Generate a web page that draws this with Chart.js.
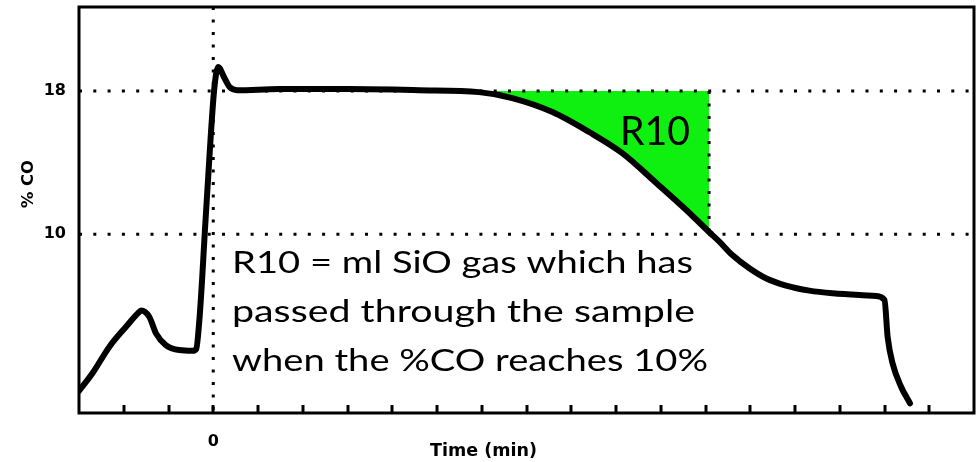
<!DOCTYPE html>
<html><head><meta charset="utf-8">
<script src="https://cdn.jsdelivr.net/npm/chart.js@4.4.0/dist/chart.umd.min.js"></script>
<style>html,body{margin:0;padding:0;background:#fff}#wrap{width:978px;height:462px;position:relative}</style>
</head><body><div id="wrap"><canvas id="c"></canvas></div>
<script>
// ---- data ----
const timeMin = [-3.0,-2.70,-2.32,-1.95,-1.65,-1.61,-1.43,-1.28,-1.06,-0.76,-0.46,-0.38,-0.31,-0.25,-0.19,-0.09,0.02,0.11,0.25,0.36,0.54,1.47,3.04,4.6,5.94,6.68,7.58,8.40,9.14,9.90,10.57,11.08,11.31,11.60,11.98,12.35,12.80,13.32,13.84,14.44,14.81,15.0,15.07,15.18,15.37,15.57];
const coPct   = [1.23,2.22,3.71,4.82,5.66,5.73,5.38,4.45,3.80,3.52,3.48,3.58,5.2,7.43,10.06,14.14,18.05,19.35,18.73,18.24,18.05,18.11,18.11,18.05,17.94,17.61,16.83,15.71,14.53,12.86,11.35,10.12,9.58,8.83,8.09,7.53,7.12,6.84,6.69,6.60,6.54,6.32,4.26,2.78,1.47,0.54];
const refLevels = [10, 18];      // dotted horizontal reference levels (% CO)
const r10Time = 11.08;           // time at which %CO reaches 10
const r10Start = 5.94;           // curve leaves the 18% plateau
const xTickValues = [-2,-1,0,1,2,3,4,5,6,7,8,9,10,11,12,13,14,15,16];
const xLabelled = [0];
const xRange = [-3, 17];
const yRange = [0, 22.7];
const xTitle = "Time (min)";
const yTitle = "% CO";
const annotationLines = ["R10 = ml SiO gas which has", "passed through the sample", "when the %CO reaches 10%"];
const areaLabel = "R10";

const curve = timeMin.map((t,i)=>({x:t, y:coPct[i]}));
const r10Area = curve.filter(p => p.x >= r10Start && p.x <= r10Time);

function fitText(ctx, text, x, y, width, font){
  ctx.font = font;
  const w = ctx.measureText(text).width;
  ctx.save();
  ctx.translate(x, y);
  ctx.scale(width / w, 1);
  ctx.textAlign = 'left';
  ctx.textBaseline = 'alphabetic';
  ctx.fillText(text, 0, 0);
  ctx.restore();
}

const decor = {
  id: 'decor',
  afterDatasetsDraw(chart){
    const {ctx, chartArea:a, scales:{x}} = chart;
    ctx.save();
    ctx.strokeStyle = '#000';
    ctx.lineWidth = 3;
    ctx.beginPath();
    xTickValues.forEach(v => {
      const px = Math.round(x.getPixelForValue(v));
      ctx.moveTo(px, a.bottom);
      ctx.lineTo(px, a.bottom - 8);
    });
    ctx.stroke();
    ctx.lineWidth = 3;
    ctx.strokeRect(a.left, a.top, a.right - a.left, a.bottom - a.top);
    ctx.restore();
  },
  afterDraw(chart){
    const {ctx} = chart;
    ctx.save();
    ctx.fillStyle = '#000';
    // axis titles
    ctx.save();
    ctx.translate(33, 208);
    ctx.rotate(-Math.PI/2);
    fitText(ctx, yTitle, 0, 0, 48, 'bold 16px "DejaVu Sans"');
    ctx.restore();
    fitText(ctx, xTitle, 430, 456, 107, 'bold 17px "DejaVu Sans"');
    // annotation text
    const baselines = [273, 322, 371];
    const widths = [461, 463, 476];
    annotationLines.forEach((t,i) => fitText(ctx, t, 232, baselines[i], widths[i], '30px Lato'));
    fitText(ctx, areaLabel, 620, 145, 70, '40px Lato');
    ctx.restore();
  }
};

const dotH = [3, 11.3];
const dotV = [3, 9.5];

new Chart(document.getElementById('c'), {
  type: 'line',
  data: {
    datasets: [
      { label:'CO', data: curve, borderColor:'#000', borderWidth:6, pointRadius:0, fill:false,
        cubicInterpolationMode:'monotone', order:0, borderCapStyle:'round', borderJoinStyle:'round' },
      { label:'ref18', data: [{x:xRange[0], y:refLevels[1]},{x:xRange[1], y:refLevels[1]}], borderColor:'#000', borderWidth:3, borderDash:dotH, pointRadius:0, fill:false, order:1 },
      { label:'ref10', data: [{x:xRange[0], y:refLevels[0]},{x:xRange[1], y:refLevels[0]}], borderColor:'#000', borderWidth:3, borderDash:dotH, pointRadius:0, fill:false, order:1 },
      { label:'t0', data: [{x:0, y:yRange[1]},{x:0, y:yRange[0]}], borderColor:'#000', borderWidth:3, borderDash:dotV, pointRadius:0, fill:false, order:1 },
      { label:'tR10', data: [{x:r10Time, y:refLevels[1]},{x:r10Time, y:refLevels[0]}], borderColor:'#000', borderWidth:3, borderDash:dotV, pointRadius:0, fill:false, order:1 },
      { label:'R10 area', data: r10Area, borderWidth:0, borderColor:'rgba(0,0,0,0)', backgroundColor:'rgb(16,240,16)', pointRadius:0,
        cubicInterpolationMode:'monotone', fill:{value:refLevels[1]}, order:2 }
    ]
  },
  options: {
    responsive: true,
    maintainAspectRatio: false,
    animation: false,
    events: [],
    layout: { padding: { top: 7, right: 4, left: 0, bottom: 0 } },
    plugins: { legend:{display:false}, tooltip:{enabled:false} },
    scales: {
      x: {
        type: 'linear', min: xRange[0], max: xRange[1],
        grid: { display:false, drawTicks:false },
        border: { display:false },
        afterBuildTicks: s => { s.ticks = xTickValues.map(v=>({value:v})); },
        afterFit: s => { s.height = 49; s.paddingLeft = 0; s.paddingRight = 0; s.paddingTop = 0; s.paddingBottom = 0; },
        ticks: { autoSkip:false, maxRotation:0, padding:19, color:'#000',
          font:{ family:'"DejaVu Sans"', size:16, weight:'bold' },
          callback: v => xLabelled.includes(v) ? String(v) : '' }
      },
      y: {
        type: 'linear', min: yRange[0], max: yRange[1],
        grid: { display:false, drawTicks:false },
        border: { display:false },
        afterBuildTicks: s => { s.ticks = refLevels.map(v=>({value:v})); },
        afterFit: s => { s.width = 79; s.paddingLeft = 0; s.paddingRight = 0; s.paddingTop = 0; s.paddingBottom = 0; },
        ticks: { padding:13, color:'#000', font:{ family:'"DejaVu Sans"', size:16, weight:'bold' } }
      }
    }
  },
  plugins: [decor]
});
</script>
</body></html>
